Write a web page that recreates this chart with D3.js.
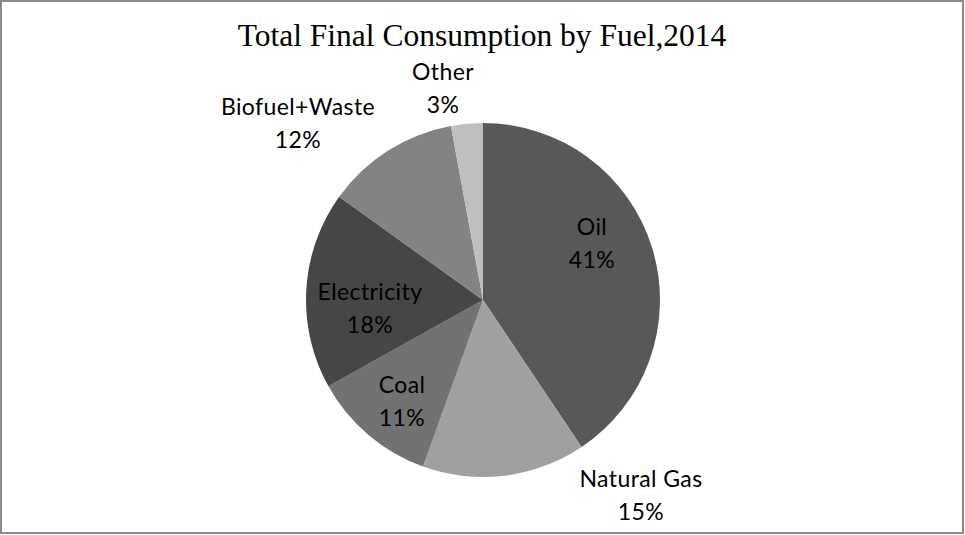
<!DOCTYPE html>
<html>
<head>
<meta charset="utf-8">
<script src="https://cdn.jsdelivr.net/npm/d3@7"></script>
<style>
  html, body { margin: 0; padding: 0; background: #fff; }
  svg { display: block; }
</style>
</head>
<body>
<svg id="chart" width="965" height="535"></svg>
<script>
// ---- data ----
const categories = ["Oil", "Natural Gas", "Coal", "Electricity", "Biofuel+Waste", "Other"];
const values = [40.6, 14.9, 11.4, 18.0, 12.2, 2.9];
const percentLabels = ["41%", "15%", "11%", "18%", "12%", "3%"];
const titleText = "Total Final Consumption by Fuel,2014";

// ---- style / layout ----
const colors = ["#585858", "#a0a0a0", "#727272", "#464646", "#838383", "#bfbfbf"];
// label anchor (center x, first-line baseline) relative to pie centre
const labelOffsets = [[109, -65], [158, 187], [-81, 93], [-113, 0], [-185, -185], [-40, -220]];
const lineGap = 33;

const W = 965, H = 535;
const cx = 483, cy = 300, R = 177;

const svg = d3.select("#chart");

svg.append("rect")
  .attr("x", 1).attr("y", 1)
  .attr("width", W - 3).attr("height", H - 3)
  .attr("fill", "#fff")
  .attr("stroke", "#8a8a8a")
  .attr("stroke-width", 2);

svg.append("text")
  .attr("x", 482).attr("y", 46)
  .attr("text-anchor", "middle")
  .attr("font-family", "'Liberation Serif', 'Times New Roman', serif")
  .attr("font-size", 31.5)
  .attr("fill", "#000")
  .text(titleText);

const data = categories.map((c, i) => ({ name: c, value: values[i], pct: percentLabels[i], i }));

const pie = d3.pie().value(d => d.value).sort(null);
const arc = d3.arc().innerRadius(0).outerRadius(R);
const color = d3.scaleOrdinal().domain(categories).range(colors);

const g = svg.append("g").attr("transform", `translate(${cx},${cy})`);

g.selectAll("path.slice")
  .data(pie(data))
  .join("path")
  .attr("class", "slice")
  .attr("d", arc)
  .attr("fill", d => color(d.data.name));

const lbl = g.selectAll("text.lbl")
  .data(pie(data))
  .join("text")
  .attr("class", "lbl")
  .attr("text-anchor", "middle")
  .attr("font-family", "Lato, 'Open Sans', sans-serif")
  .attr("font-size", 23)
  .attr("letter-spacing", 0.4)
  .attr("fill", "#000");

lbl.append("tspan")
  .attr("x", d => labelOffsets[d.data.i][0])
  .attr("y", d => labelOffsets[d.data.i][1])
  .text(d => d.data.name);
lbl.append("tspan")
  .attr("x", d => labelOffsets[d.data.i][0])
  .attr("y", d => labelOffsets[d.data.i][1] + lineGap)
  .text(d => d.data.pct);
</script>
</body>
</html>
